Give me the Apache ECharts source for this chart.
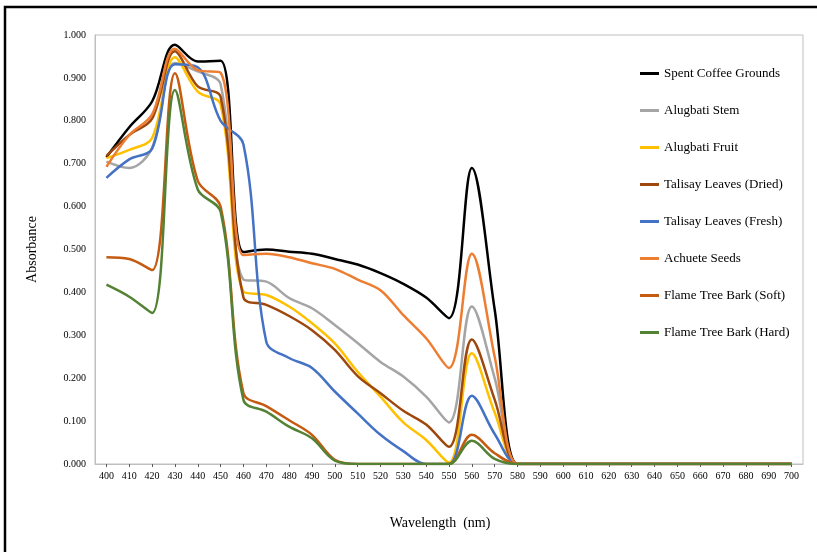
<!DOCTYPE html>
<html>
<head>
<meta charset="utf-8">
<script src="https://cdn.jsdelivr.net/npm/echarts@6/dist/echarts.min.js"></script>
<style>
html,body{margin:0;padding:0;background:#fff;}
#chart{width:817px;height:552px;}
</style>
</head>
<body>
<div id="chart"></div>
<script>
var wavelengths = ['400','410','420','430','440','450','460','470','480','490','500','510','520','530','540','550','560','570','580','590','600','610','620','630','640','650','660','670','680','690','700'];
var tail = [0,0,0,0,0,0,0,0,0,0,0,0];
var spentCoffee   = [0.715,0.785,0.845,0.977,0.938,0.940,0.494,0.500,0.495,0.490,0.478,0.465,0.445,0.420,0.388,0.340,0.690,0.360,0].concat(tail);
var alugbatiStem  = [0.705,0.690,0.737,0.935,0.915,0.885,0.430,0.425,0.387,0.363,0.324,0.282,0.238,0.204,0.157,0.097,0.367,0.200,0].concat(tail);
var alugbatiFruit = [0.713,0.732,0.760,0.948,0.868,0.838,0.402,0.394,0.367,0.328,0.281,0.215,0.157,0.097,0.056,0.003,0.258,0.120,0].concat(tail);
var talisayDried  = [0.718,0.767,0.805,0.962,0.880,0.856,0.388,0.371,0.345,0.312,0.266,0.205,0.165,0.124,0.092,0.040,0.290,0.150,0].concat(tail);
var talisayFresh  = [0.667,0.710,0.735,0.932,0.925,0.800,0.745,0.285,0.247,0.224,0.169,0.118,0.068,0.030,0,0,0.159,0.070,0].concat(tail);
var achueteSeeds  = [0.693,0.767,0.815,0.968,0.918,0.912,0.487,0.490,0.482,0.468,0.455,0.430,0.405,0.347,0.293,0.224,0.490,0.250,0].concat(tail);
var flameSoft     = [0.482,0.478,0.452,0.911,0.660,0.600,0.165,0.135,0.102,0.068,0.010,0,0,0,0,0,0.068,0.025,0].concat(tail);
var flameHard     = [0.418,0.390,0.352,0.872,0.640,0.588,0.149,0.122,0.087,0.060,0.008,0,0,0,0,0,0.054,0.012,0].concat(tail);

var names  = ['Spent Coffee Grounds','Alugbati Stem','Alugbati Fruit','Talisay Leaves (Dried)','Talisay Leaves (Fresh)','Achuete Seeds','Flame Tree Bark (Soft)','Flame Tree Bark (Hard)'];
var colors = ['#000000','#A5A5A5','#FFC000','#9E480E','#4472C4','#ED7D31','#C55A11','#548235'];
var datasets = [spentCoffee, alugbatiStem, alugbatiFruit, talisayDried, talisayFresh, achueteSeeds, flameSoft, flameHard];

var font = 'Liberation Serif';
var series = names.map(function(n,i){
  return {
    name: n, type: 'line', data: datasets[i], smooth: 0.35,
    showSymbol: false, symbol: 'none',
    lineStyle: {color: colors[i], width: 2.5},
    itemStyle: {color: colors[i]}
  };
});

var chart = echarts.init(document.getElementById('chart'), null, {renderer:'canvas'});
chart.setOption({
  animation: false,
  backgroundColor: '#fff',
  grid: {left: 95, right: 14, top: 35, bottom: 88, show: true, borderColor: '#BFBFBF', borderWidth: 1, containLabel: false},
  legend: {
    orient: 'vertical', left: 635, top: 62, itemWidth: 19, itemHeight: 3, itemGap: 24,
    icon: 'rect',
    textStyle: {fontFamily: font, fontSize: 13, color: '#000'},
    data: names
  },
  xAxis: {
    type: 'category', data: wavelengths, boundaryGap: true,
    name: 'Wavelength  (nm)', nameLocation: 'middle', nameGap: 52,
    nameTextStyle: {fontFamily: font, fontSize: 14, color: '#000', padding: [0, 18, 0, 0]},
    axisLine: {lineStyle: {color: '#BFBFBF', width: 1}},
    axisTick: {show: true, alignWithLabel: true, length: 3, lineStyle: {color: '#595959'}},
    axisLabel: {fontFamily: font, fontSize: 10, color: '#000', margin: 7, interval: 0}
  },
  yAxis: {
    type: 'value', min: 0, max: 1, interval: 0.1,
    name: 'Absorbance', nameLocation: 'middle', nameGap: 56, nameRotate: 90,
    nameTextStyle: {fontFamily: font, fontSize: 14, color: '#000'},
    axisLine: {show: true, lineStyle: {color: '#BFBFBF'}},
    axisTick: {show: false},
    splitLine: {show: false},
    axisLabel: {fontFamily: font, fontSize: 10, color: '#000', margin: 9, formatter: function(v){return v.toFixed(3);}}
  },
  graphic: [{
    type: 'rect', silent: true, z: 100,
    shape: {x: 5, y: 7, width: 900, height: 700},
    style: {fill: 'none', stroke: '#000', lineWidth: 2.5}
  }],
  series: series
});
</script>
</body>
</html>
